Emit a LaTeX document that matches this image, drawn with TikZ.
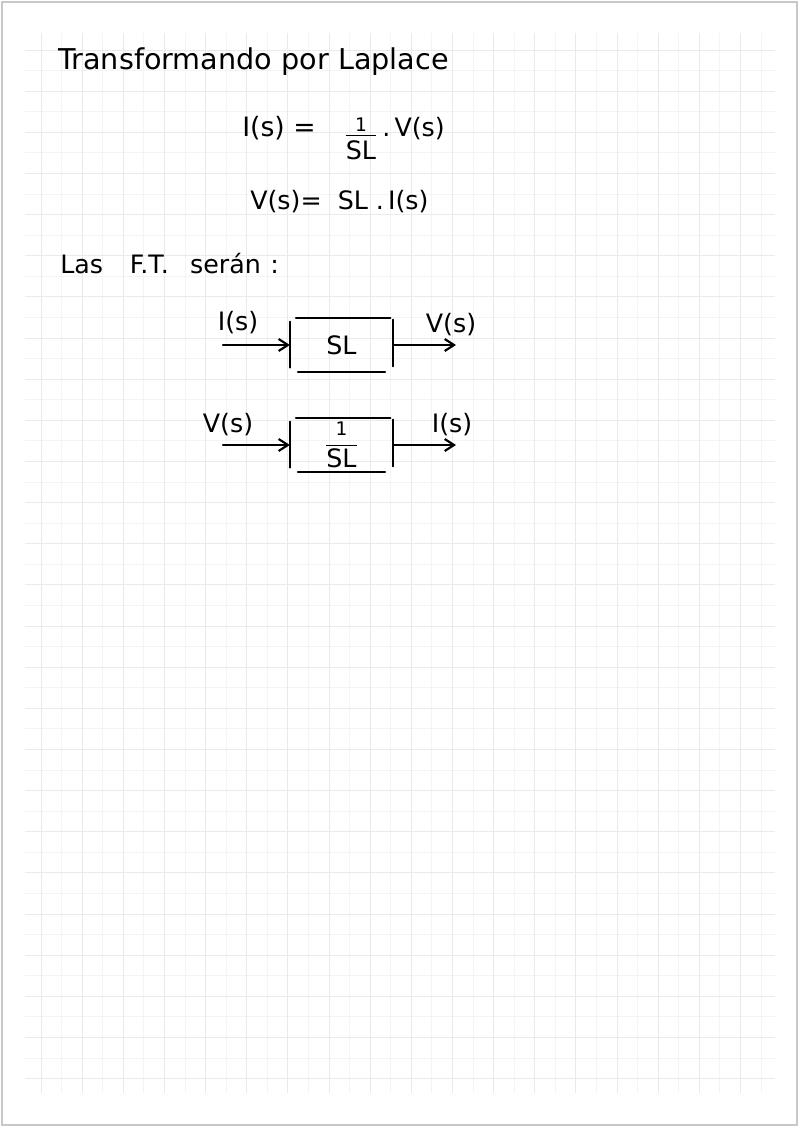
\documentclass[tikz,border=0pt]{standalone}
\usepackage{fontspec}
\setmainfont{DejaVu Sans}
\usepackage{amsmath}
\usetikzlibrary{arrows.meta}

\begin{document}
\begin{tikzpicture}[x=0.75pt,y=-0.75pt,
    >={Straight Barb[length=7pt,width=9pt]},
    pen/.style={line width=1.6pt,line cap=round},
    hand/.style={inner sep=0pt,font=\fontsize{19}{22}\selectfont},
    blockbox/.style={minimum width=77pt,minimum height=40.5pt,inner sep=0pt,font=\fontsize{19}{22}\selectfont}]

    % Define grid spacing
    \def\gs{20.57}

    \definecolor{gridDark}{RGB}{234,234,234}
    \definecolor{gridLight}{RGB}{244,244,244}
    \definecolor{pageBorder}{RGB}{200,200,200}

    % Hand drawn block outline, corners left open
    \def\sketchbox#1{
        \draw[pen] ([yshift=-3pt]#1.north west) -- ([yshift=3.5pt]#1.south west);
        \draw[pen] ([xshift=4.5pt]#1.north west) -- ([xshift=-2pt]#1.north east);
        \draw[pen] ([xshift=6pt]#1.south west) -- ([xshift=-6pt]#1.south east);
        \draw[pen] ([yshift=-1.5pt]#1.north east) -- ([yshift=4.5pt]#1.south east);
    }

    % Page and border
    \useasboundingbox (0,0) rectangle (800,1128);
    \draw[pageBorder,line width=0.9pt] (2,2) rectangle (797,1125);

    % Draw grid
    \foreach \k in {1,3,...,35}
        \draw[gridLight,line width=0.6pt] (41+\k*\gs,33) -- (41+\k*\gs,1093);
    \foreach \k in {1,3,...,49}
        \draw[gridLight,line width=0.6pt] (25,50+\k*\gs) -- (775,50+\k*\gs);
    \foreach \k in {0,2,...,34}
        \draw[gridDark,line width=0.6pt] (41+\k*\gs,33) -- (41+\k*\gs,1093);
    \foreach \k in {0,2,...,50}
        \draw[gridDark,line width=0.6pt] (25,50+\k*\gs) -- (775,50+\k*\gs);

    % Heading and equations
    \node[hand,anchor=base west,font=\fontsize{21.5}{24}\selectfont] (title) at (58,69) {Transformando por Laplace};

    \node[hand,anchor=base west,font=\fontsize{20}{22}\selectfont] (eqI) at (242,136) {I(s) =};
    \node[hand,font=\fontsize{20}{22}\selectfont] (fracEq) at (361,139) {$\frac{\mbox{\fontsize{14}{14}\selectfont 1}}{\mbox{\fontsize{19}{19}\selectfont\rule{0pt}{17pt}SL}}$};
    \node[hand,anchor=base west] (eqV) at (382,136) {.\,V(s)};

    \node[hand,anchor=base west] (eqSL) at (250,209) {V(s)=\hspace{12pt}SL\hspace{6pt}.\hspace{3pt}I(s)};

    \node[hand,anchor=base west] (ftText) at (60,273) {Las\hspace{20pt}F.T.\hspace{16pt}serán\hspace{7pt}:};

    % First block: I(s) -> V(s)
    \node[blockbox] (blkA) at (341.5,345) {SL};
    \sketchbox{blkA}
    \coordinate (inA) at (223,345);
    \coordinate (outA) at (456,345);
    \draw[pen,->] (inA) -- (blkA.west);
    \draw[pen,->] (blkA.east) -- (outA);
    \node[hand] (lblInA) at (238,323) {I(s)};
    \node[hand] (lblOutA) at (451,325) {V(s)};

    % Second block: V(s) -> I(s)
    \node[blockbox] (blkB) at (341.5,445) {$\dfrac{\mbox{\fontsize{14}{14}\selectfont 1}}{\mbox{SL}}$};
    \sketchbox{blkB}
    \coordinate (inB) at (223,445);
    \coordinate (outB) at (456,445);
    \draw[pen,->] (inB) -- (blkB.west);
    \draw[pen,->] (blkB.east) -- (outB);
    \node[hand] (lblInB) at (228,425) {V(s)};
    \node[hand] (lblOutB) at (452,425) {I(s)};

\end{tikzpicture}
\end{document}
